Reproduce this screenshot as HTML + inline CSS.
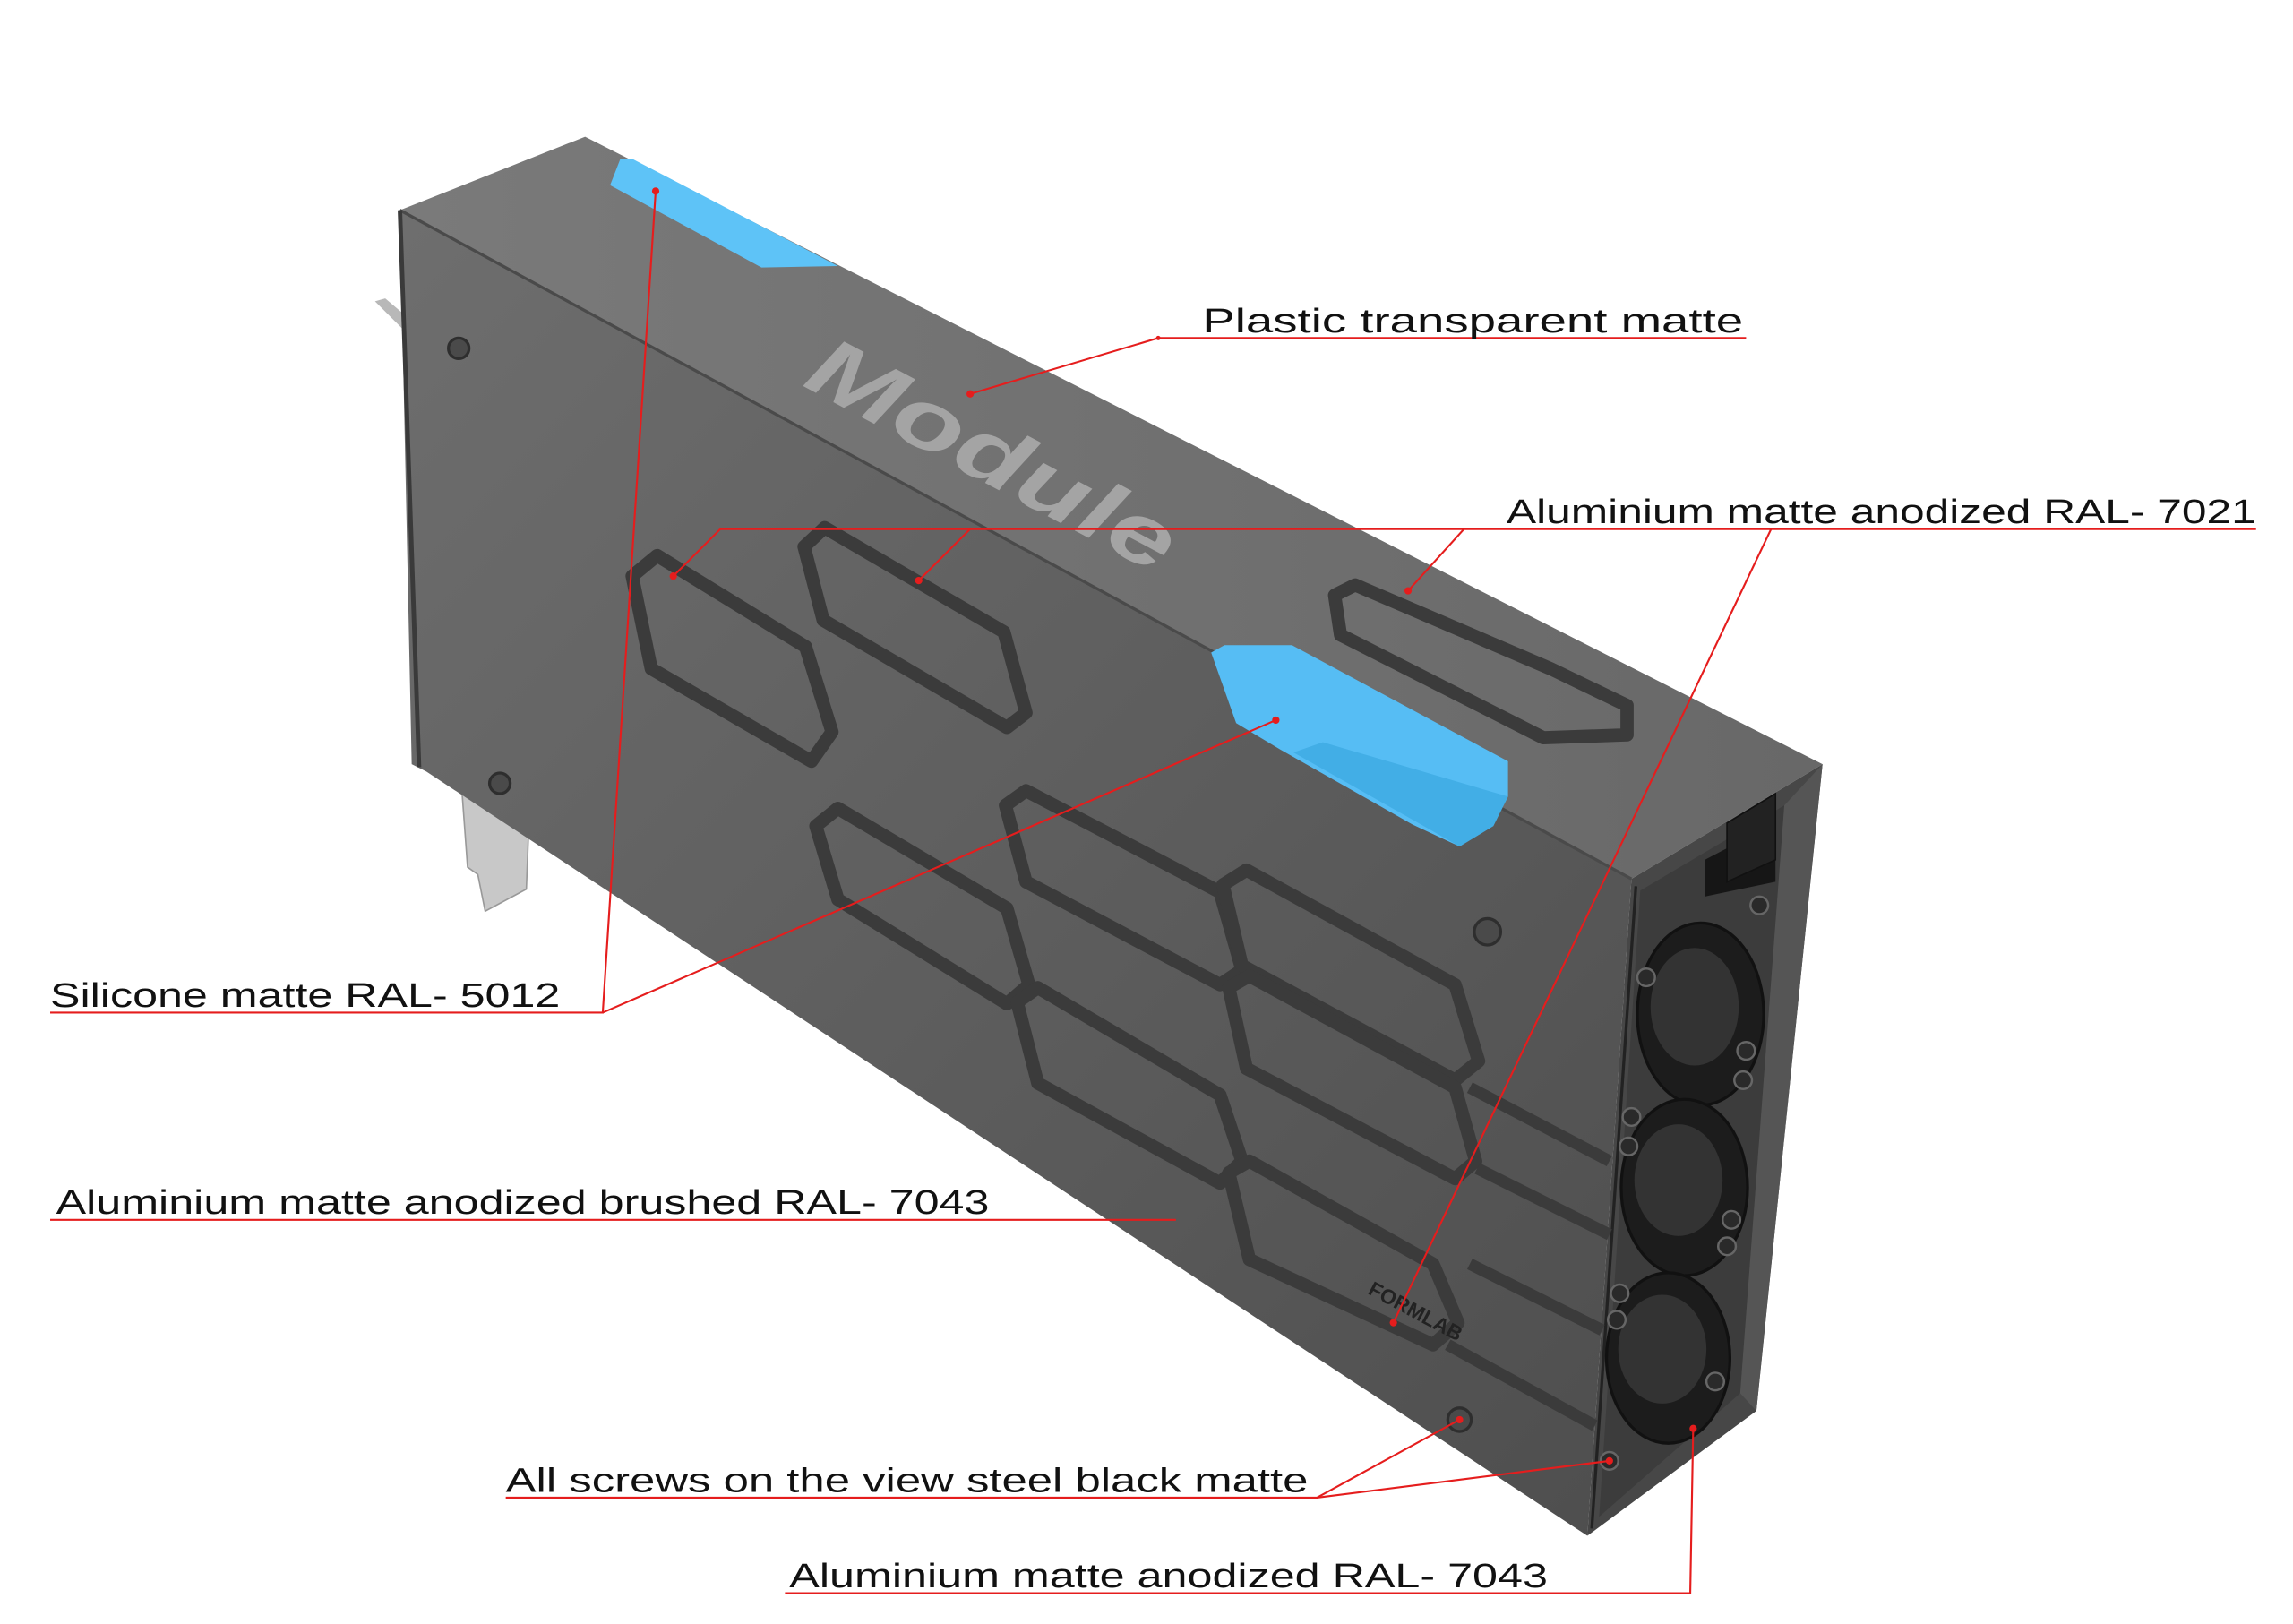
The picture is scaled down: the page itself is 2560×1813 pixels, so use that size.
<!DOCTYPE html>
<html><head><meta charset="utf-8"><style>
html,body{margin:0;padding:0;background:#fff;}
svg{display:block;}
text{font-family:"Liberation Sans",sans-serif;fill:#111;}
</style></head><body>
<svg width="2560" height="1813" viewBox="0 0 1560 1105" xmlns="http://www.w3.org/2000/svg">
<defs>
<linearGradient id="side" x1="0" y1="0" x2="1" y2="1">
<stop offset="0" stop-color="#6e6e6e"/><stop offset="0.5" stop-color="#5e5e5e"/><stop offset="1" stop-color="#4e4e4e"/>
</linearGradient>
<linearGradient id="top" x1="0" y1="0" x2="1" y2="0">
<stop offset="0" stop-color="#7a7a7a"/><stop offset="1" stop-color="#686868"/>
</linearGradient>
</defs>
<polygon points="255,205 262,203 282,220 282,228 276,226" fill="#b8b8b8"/>
<polygon points="313,522 360,555 358,605 330,620 325,595 318,590" fill="#c8c8c8" stroke="#999" stroke-width="1"/>
<polygon points="272,143 1110,598 1080,1045 290,525 280,520" fill="url(#side)"/>
<polygon points="272,143 398,93 1240,520 1110,598" fill="url(#top)"/>
<line x1="272" y1="143" x2="1110" y2="598" stroke="#4a4a4a" stroke-width="2"/>
<line x1="272" y1="143" x2="285" y2="522" stroke="#3a3a3a" stroke-width="3"/>
<polygon points="1110,598 1240,520 1195,960 1080,1045" fill="#474747"/>
<polygon points="1116,606 1214,548 1184,948 1088,1032" fill="#3c3c3c"/>
<polygon points="1214,548 1240,520 1195,960 1184,948" fill="#555"/>
<line x1="1113" y1="603" x2="1083" y2="1040" stroke="#222" stroke-width="2"/>
<polygon points="1160,585 1208,560 1208,600 1160,610" fill="#161616"/>
<polygon points="1175,560 1208,540 1208,585 1175,600" fill="#222" stroke="#111"/>
<g fill="#1c1c1c" stroke="#111" stroke-width="2">
<ellipse cx="1157" cy="690" rx="43" ry="62"/>
<ellipse cx="1146" cy="808" rx="43" ry="60"/>
<ellipse cx="1135" cy="924" rx="42" ry="58"/>
</g>
<g fill="#333">
<ellipse cx="1153" cy="685" rx="30" ry="40"/>
<ellipse cx="1142" cy="803" rx="30" ry="38"/>
<ellipse cx="1131" cy="918" rx="30" ry="37"/>
</g>
<g fill="#2a2a2a" stroke="#666" stroke-width="1.5">
<circle cx="1120" cy="665" r="6"/><circle cx="1197" cy="616" r="6"/>
<circle cx="1188" cy="715" r="6"/><circle cx="1186" cy="735" r="6"/>
<circle cx="1110" cy="760" r="6"/><circle cx="1108" cy="780" r="6"/>
<circle cx="1178" cy="830" r="6"/><circle cx="1175" cy="848" r="6"/>
<circle cx="1102" cy="880" r="6"/><circle cx="1100" cy="898" r="6"/>
<circle cx="1167" cy="940" r="6"/><circle cx="1095" cy="994" r="6"/>
</g>
<g fill="none" stroke="#3b3b3b" stroke-width="9" stroke-linejoin="round">
<polygon points="430,392 447,378 548,440 566,498 552,518 443,455"/>
<polygon points="547,372 561,359 683,430 698,485 685,495 560,422"/>
<polygon points="908,405 922,398 1055,455 1107,480 1107,500 1050,502 912,432"/>
<polygon points="555,562 570,550 685,618 700,670 685,683 570,612"/>
<polygon points="684,548 698,538 830,607 845,660 830,670 698,600"/>
<polygon points="832,602 848,592 990,670 1006,722 990,735 845,657"/>
<polygon points="692,682 706,672 830,745 845,790 830,805 706,737"/>
<polygon points="836,672 850,664 990,740 1004,790 990,802 848,727"/>
<polygon points="836,798 850,790 975,860 992,900 975,915 850,857"/>
</g>
<g stroke="#3b3b3b" stroke-width="8">
<line x1="1000" y1="740" x2="1095" y2="790"/>
<line x1="1000" y1="860" x2="1090" y2="905"/>
<line x1="985" y1="915" x2="1085" y2="970"/>
<line x1="1005" y1="795" x2="1095" y2="840"/>
</g>
<g fill="#4a4a4a" stroke="#2e2e2e" stroke-width="2">
<circle cx="312" cy="237" r="7"/><circle cx="340" cy="533" r="7"/>
<circle cx="1012" cy="634" r="9"/><circle cx="993" cy="966" r="8"/>
</g>
<text x="0" y="0" font-size="58" font-weight="bold" font-style="italic" textLength="275" lengthAdjust="spacingAndGlyphs" transform="translate(545,262) rotate(28)" style="fill:#a4a4a4">Module</text>
<text x="0" y="0" font-size="14" font-weight="bold" transform="translate(930,880) rotate(28)" style="fill:#222">FORMLAB</text>
<polygon points="422,108 430,108 570,181 518,182 415,126" fill="#5ec3f7"/>
<polygon points="824,444 833,439 879,439 1026,518 1026,542 1016,562 993,576 961,561 871,510 841,492" fill="#56bdf4"/>
<polygon points="880,512 965,560 993,576 1016,562 1026,542 900,505" fill="#42aee6"/>
<g stroke="#e51d1d" stroke-width="1.3" fill="none">
<polyline points="1188,230 788,230 660,268"/>
<polyline points="1535,360 490,360 458,392"/>
<line x1="660" y1="360" x2="625" y2="395"/>
<line x1="996" y1="360" x2="958" y2="402"/>
<line x1="1205" y1="360" x2="948" y2="900"/>
<polyline points="34,689 410,689 446,130"/>
<line x1="410" y1="689" x2="868" y2="490"/>
<line x1="34" y1="830" x2="800" y2="830"/>
<polyline points="344,1019 896,1019 993,966"/>
<line x1="896" y1="1019" x2="1095" y2="994"/>
<polyline points="534,1084 1150,1084 1152,972"/>
</g>
<g fill="#e51d1d">
<circle cx="660" cy="268" r="2.5"/><circle cx="458" cy="392" r="2.5"/><circle cx="625" cy="395" r="2.5"/>
<circle cx="958" cy="402" r="2.5"/><circle cx="948" cy="900" r="2.5"/><circle cx="446" cy="130" r="2.5"/>
<circle cx="868" cy="490" r="2.5"/><circle cx="993" cy="966" r="2.5"/><circle cx="1095" cy="994" r="2.5"/>
<circle cx="1152" cy="972" r="2.5"/><circle cx="788" cy="230" r="1.5"/>
</g>
<g font-size="23">
<text x="818" y="226" textLength="368" lengthAdjust="spacingAndGlyphs">Plastic transparent matte</text>
<text x="1025" y="356" textLength="510" lengthAdjust="spacingAndGlyphs">Aluminium matte anodized RAL- 7021</text>
<text x="34" y="685" textLength="347" lengthAdjust="spacingAndGlyphs">Silicone matte RAL- 5012</text>
<text x="38" y="826" textLength="635" lengthAdjust="spacingAndGlyphs">Aluminium matte anodized brushed RAL- 7043</text>
<text x="344" y="1015" textLength="546" lengthAdjust="spacingAndGlyphs">All screws on the view steel black matte</text>
<text x="537" y="1080" textLength="516" lengthAdjust="spacingAndGlyphs">Aluminium matte anodized RAL- 7043</text>
</g>
</svg>
</body></html>
